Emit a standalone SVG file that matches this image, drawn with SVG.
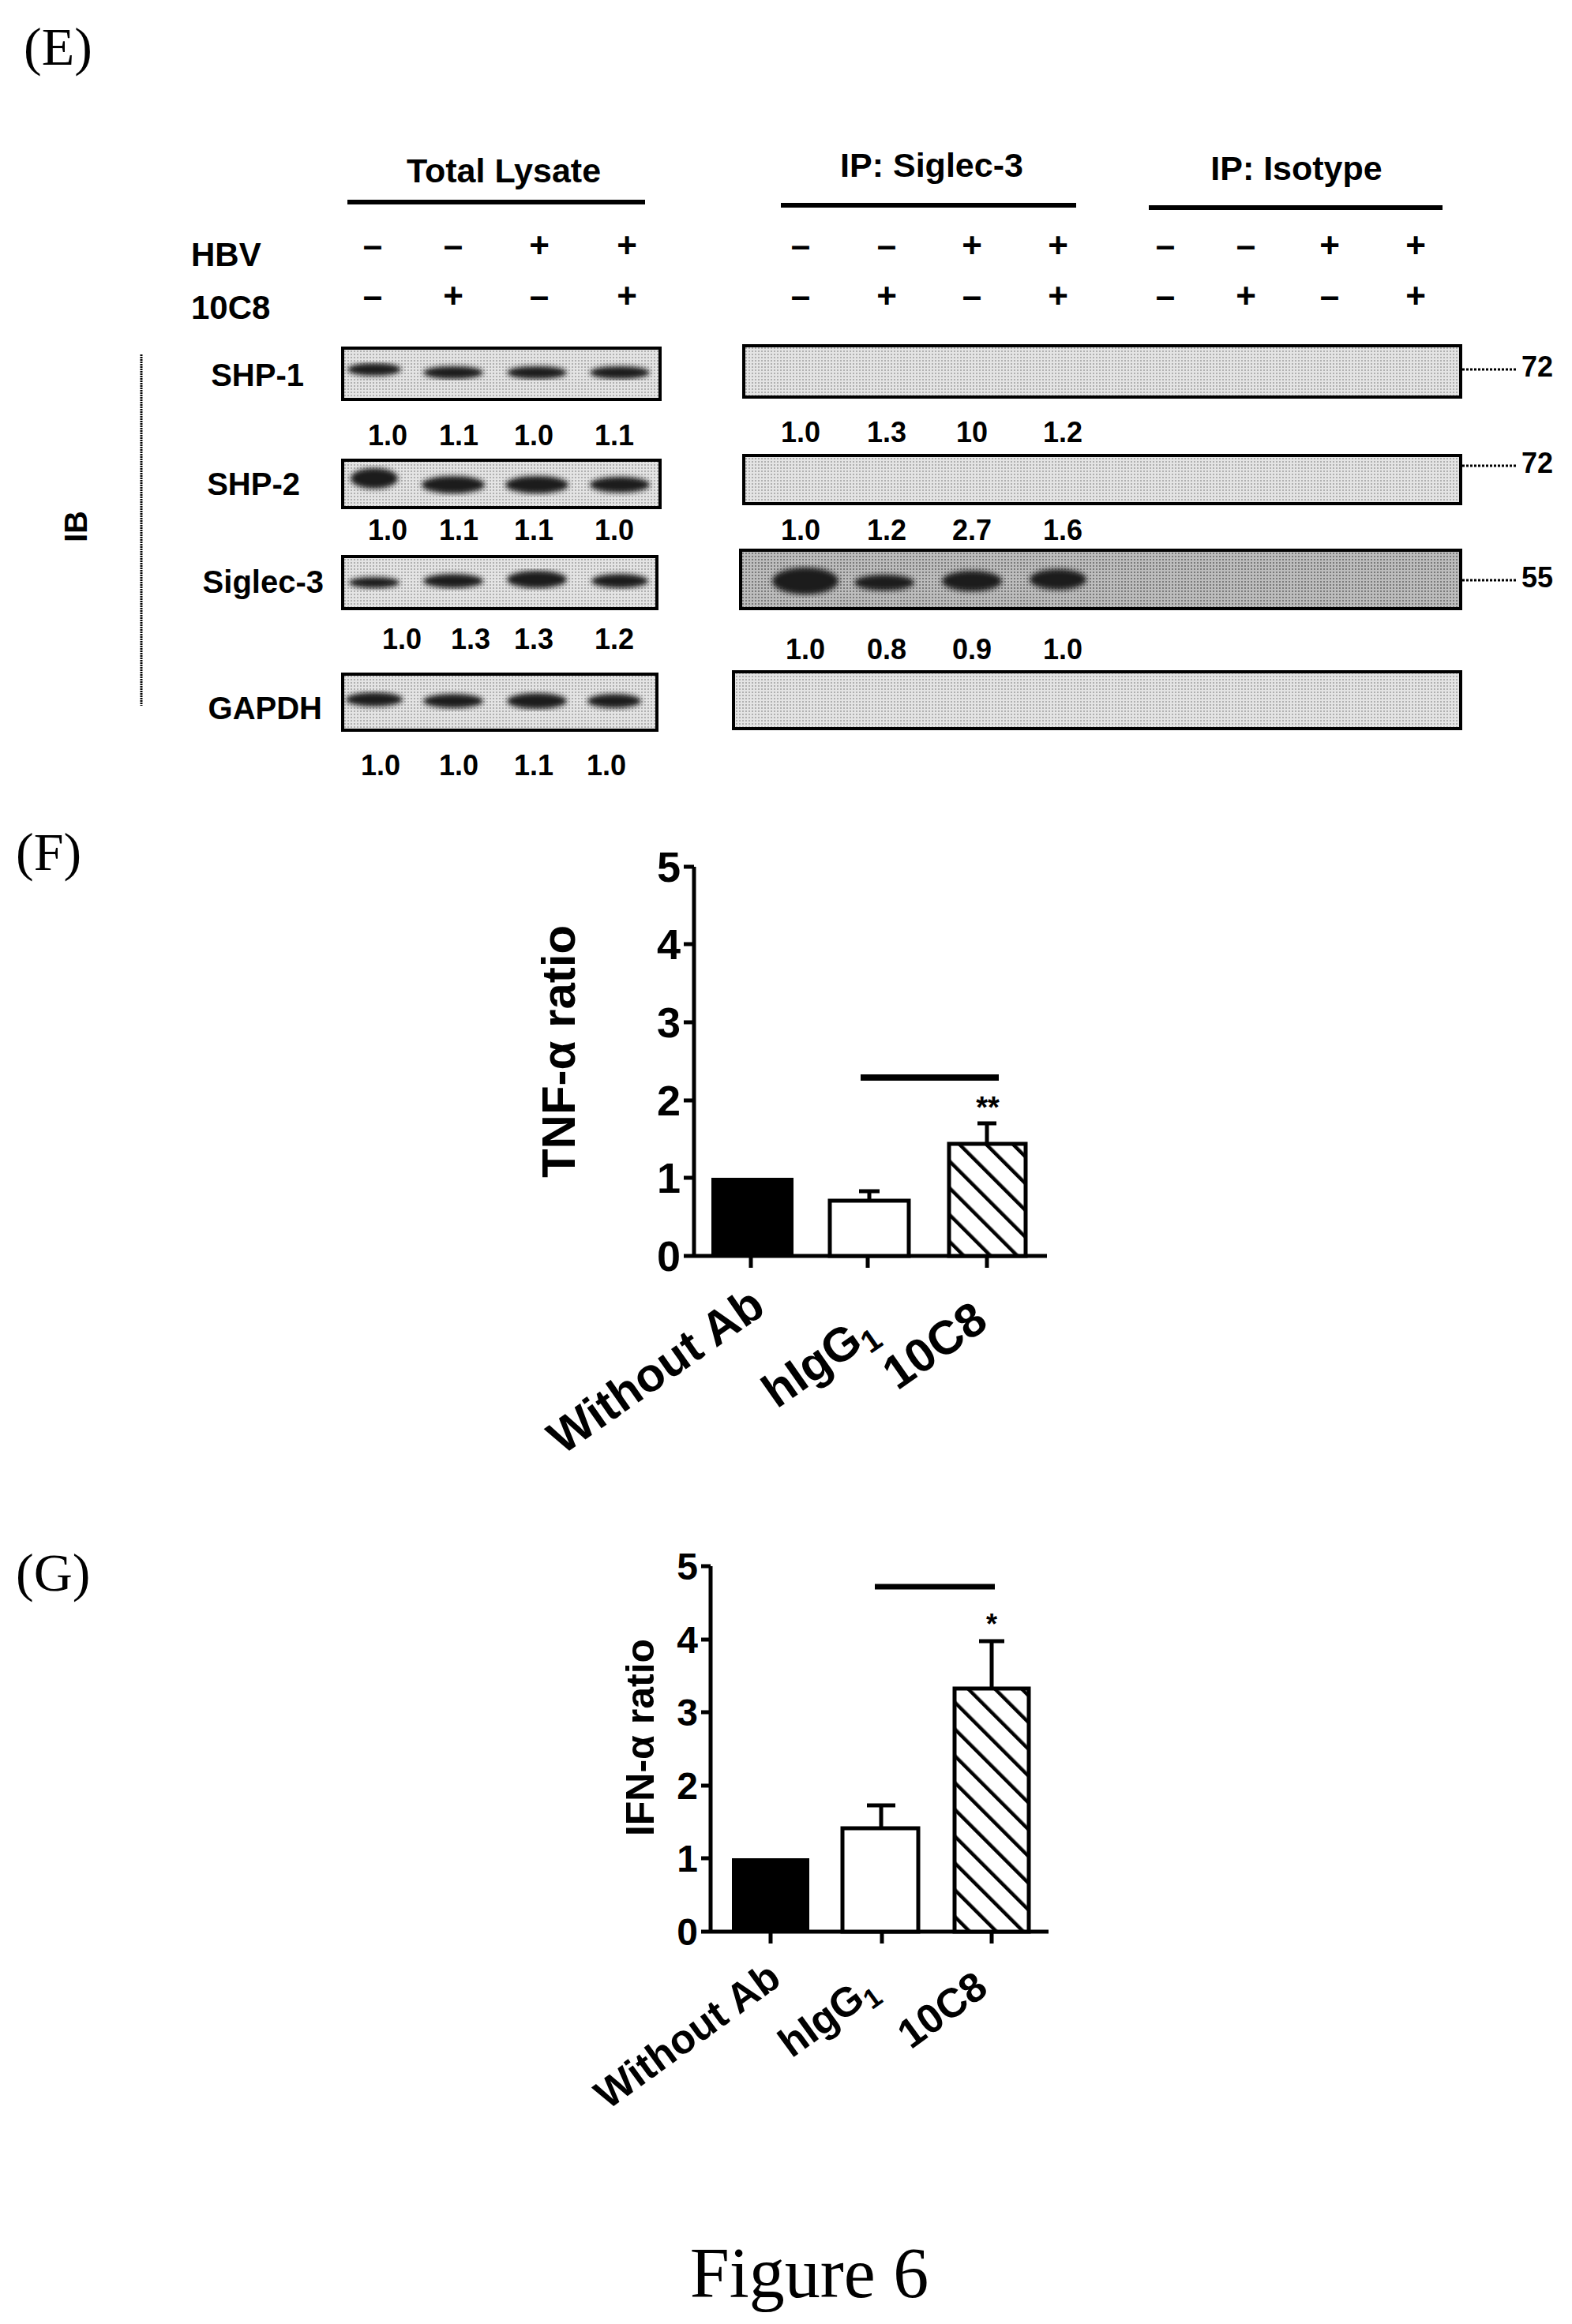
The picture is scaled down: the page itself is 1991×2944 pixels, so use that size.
<svg xmlns="http://www.w3.org/2000/svg" width="1991" height="2944" viewBox="0 0 1991 2944">
<style>
.t{font-family:"Liberation Serif",serif;fill:#000}
.b{font-family:"Liberation Sans",Arial,sans-serif;font-weight:bold;fill:#000}
.h{font-size:43px;text-anchor:middle}
.s{font-size:44px;text-anchor:middle}
.n{font-size:36px;text-anchor:middle}
.l{font-size:40px;text-anchor:end}
.blot{stroke:#000;stroke-width:4;fill:url(#dots)}
.band{fill:#1a1a1a}
.ax{stroke:#000;stroke-width:5;fill:none}
</style>
<defs>
<pattern id="dots" width="4" height="4" patternUnits="userSpaceOnUse">
<rect width="4" height="4" fill="#e4e4e4"/><rect width="2" height="2" fill="#b0b0b0"/>
</pattern>
<pattern id="dotsd" width="4" height="4" patternUnits="userSpaceOnUse">
<rect width="4" height="4" fill="#bdbdbd"/><rect width="2" height="2" fill="#7a7a7a"/>
</pattern>
<pattern id="hatch" width="24" height="24" patternUnits="userSpaceOnUse" patternTransform="rotate(-45)">
<rect width="24" height="24" fill="#fff"/><line x1="0" y1="0" x2="0" y2="24" stroke="#000" stroke-width="9"/>
</pattern>
<filter id="bl"><feGaussianBlur stdDeviation="3"/></filter>
</defs>
<rect width="1991" height="2944" fill="#fff"/>

<g id="panelE">
<text class="t" x="30" y="82" font-size="68">(E)</text>
<text class="b h" x="638" y="231">Total Lysate</text>
<text class="b h" x="1180" y="224">IP: Siglec-3</text>
<text class="b h" x="1642" y="228">IP: Isotype</text>
<line x1="440" y1="256" x2="817" y2="256" stroke="#000" stroke-width="6"/>
<line x1="989" y1="260" x2="1363" y2="260" stroke="#000" stroke-width="6"/>
<line x1="1455" y1="263" x2="1827" y2="263" stroke="#000" stroke-width="6"/>
<text class="b" x="242" y="337" font-size="42">HBV</text>
<text class="b" x="242" y="404" font-size="42">10C8</text>
<g class="b s">
<text x="472" y="326">–</text><text x="574" y="326">–</text><text x="683" y="326">+</text><text x="794" y="326">+</text>
<text x="1014" y="326">–</text><text x="1123" y="326">–</text><text x="1231" y="326">+</text><text x="1340" y="326">+</text>
<text x="1476" y="326">–</text><text x="1578" y="326">–</text><text x="1684" y="326">+</text><text x="1793" y="326">+</text>
<text x="472" y="390">–</text><text x="574" y="390">+</text><text x="683" y="390">–</text><text x="794" y="390">+</text>
<text x="1014" y="390">–</text><text x="1123" y="390">+</text><text x="1231" y="390">–</text><text x="1340" y="390">+</text>
<text x="1476" y="390">–</text><text x="1578" y="390">+</text><text x="1684" y="390">–</text><text x="1793" y="390">+</text>
</g>
<line x1="179" y1="449" x2="179" y2="894" stroke="#000" stroke-width="3" stroke-dasharray="2 1"/>
<text class="b" x="0" y="0" font-size="40" text-anchor="middle" transform="translate(110 667) rotate(-90)">IB</text>

<g id="row-shp1">
<text class="b l" x="385" y="489">SHP-1</text>
<rect class="blot" x="434" y="441" width="402" height="65"/>
<g class="band" filter="url(#bl)"><ellipse cx="474" cy="468" rx="34" ry="8"/><ellipse cx="574" cy="472" rx="38" ry="8"/><ellipse cx="680" cy="472" rx="38" ry="8"/><ellipse cx="785" cy="472" rx="38" ry="8"/></g>
<rect class="blot" x="942" y="438" width="908" height="65"/>
<line x1="1852" y1="468" x2="1922" y2="468" stroke="#000" stroke-width="3" stroke-dasharray="3 2"/>
<text class="b" x="1927" y="477" font-size="36">72</text>
</g>
<g class="b n">
<text x="491" y="564">1.0</text><text x="581" y="564">1.1</text><text x="676" y="564">1.0</text><text x="778" y="564">1.1</text>
<text x="1014" y="560">1.0</text><text x="1123" y="560">1.3</text><text x="1231" y="560">10</text><text x="1346" y="560">1.2</text>
</g>
<g id="row-shp2">
<text class="b l" x="380" y="627">SHP-2</text>
<rect class="blot" x="434" y="583" width="402" height="60"/>
<g class="band" filter="url(#bl)"><ellipse cx="474" cy="606" rx="30" ry="13"/><ellipse cx="574" cy="614" rx="40" ry="11"/><ellipse cx="680" cy="614" rx="40" ry="11"/><ellipse cx="785" cy="614" rx="38" ry="10"/></g>
<rect class="blot" x="942" y="577" width="908" height="61"/>
<line x1="1852" y1="590" x2="1922" y2="590" stroke="#000" stroke-width="3" stroke-dasharray="3 2"/>
<text class="b" x="1927" y="599" font-size="36">72</text>
</g>
<g class="b n">
<text x="491" y="684">1.0</text><text x="581" y="684">1.1</text><text x="676" y="684">1.1</text><text x="778" y="684">1.0</text>
<text x="1014" y="684">1.0</text><text x="1123" y="684">1.2</text><text x="1231" y="684">2.7</text><text x="1346" y="684">1.6</text>
</g>
<g id="row-siglec3">
<text class="b l" x="410" y="751">Siglec-3</text>
<rect class="blot" x="434" y="705" width="398" height="66"/>
<g class="band" filter="url(#bl)"><ellipse cx="474" cy="738" rx="32" ry="7"/><ellipse cx="574" cy="736" rx="38" ry="9"/><ellipse cx="680" cy="734" rx="38" ry="11"/><ellipse cx="785" cy="736" rx="36" ry="9"/></g>
<rect x="938" y="697" width="912" height="74" stroke="#000" stroke-width="4" fill="url(#dotsd)"/>
<g class="band" filter="url(#bl)"><ellipse cx="1020" cy="736" rx="42" ry="17"/><ellipse cx="1120" cy="738" rx="38" ry="10"/><ellipse cx="1231" cy="736" rx="38" ry="13"/><ellipse cx="1340" cy="734" rx="36" ry="13"/></g>
<line x1="1852" y1="735" x2="1922" y2="735" stroke="#000" stroke-width="3" stroke-dasharray="3 2"/>
<text class="b" x="1927" y="744" font-size="36">55</text>
</g>
<g class="b n">
<text x="509" y="822">1.0</text><text x="596" y="822">1.3</text><text x="676" y="822">1.3</text><text x="778" y="822">1.2</text>
<text x="1020" y="835">1.0</text><text x="1123" y="835">0.8</text><text x="1231" y="835">0.9</text><text x="1346" y="835">1.0</text>
</g>
<g id="row-gapdh">
<text class="b l" x="408" y="911">GAPDH</text>
<rect class="blot" x="434" y="854" width="398" height="71"/>
<g class="band" filter="url(#bl)"><ellipse cx="474" cy="886" rx="36" ry="9"/><ellipse cx="574" cy="888" rx="38" ry="9"/><ellipse cx="680" cy="888" rx="38" ry="10"/><ellipse cx="778" cy="888" rx="34" ry="9"/></g>
<rect class="blot" x="929" y="851" width="921" height="72"/>
</g>
<g class="b n">
<text x="482" y="982">1.0</text><text x="581" y="982">1.0</text><text x="676" y="982">1.1</text><text x="768" y="982">1.0</text>
</g>
</g>

<g id="panelF">
<text class="t" x="20" y="1102" font-size="68">(F)</text>
<g class="b" font-size="54" text-anchor="end">
<text x="862" y="1117">5</text><text x="862" y="1215">4</text><text x="862" y="1314">3</text><text x="862" y="1413">2</text><text x="862" y="1511">1</text><text x="862" y="1610">0</text>
</g>
<path class="ax" d="M866 1098H879M866 1196H879M866 1295H879M866 1394H879M866 1492H879M866 1591H879M879 1098V1591H1326M951 1591V1606M1099 1591V1606M1250 1591V1606"/>
<rect x="901" y="1492" width="104" height="99" fill="#000"/>
<path d="M1101 1521V1509M1088 1509H1114" stroke="#000" stroke-width="5"/>
<rect x="1051" y="1521" width="100" height="70" fill="#fff" stroke="#000" stroke-width="5"/>
<path d="M1250 1449V1423M1238 1423H1262" stroke="#000" stroke-width="5"/>
<rect x="1202" y="1449" width="97" height="142" fill="url(#hatch)" stroke="#000" stroke-width="5"/>
<line x1="1090" y1="1365" x2="1265" y2="1365" stroke="#000" stroke-width="8"/>
<text class="b" x="1251" y="1416" font-size="38" text-anchor="middle">**</text>
<text class="b" x="0" y="0" font-size="60" text-anchor="middle" transform="translate(728 1332) rotate(-90)">TNF-α ratio</text>
<g class="b" font-size="60" text-anchor="end">
<text transform="translate(972 1662) rotate(-35)">Without Ab</text>
<text transform="translate(1114 1694) rotate(-35)">hIgG<tspan font-size="40" dy="11">1</tspan></text>
<text transform="translate(1254 1680) rotate(-35)">10C8</text>
</g>
</g>

<g id="panelG">
<text class="t" x="20" y="2015" font-size="68">(G)</text>
<g class="b" font-size="48" text-anchor="end">
<text x="884" y="2001">5</text><text x="884" y="2094">4</text><text x="884" y="2186">3</text><text x="884" y="2279">2</text><text x="884" y="2371">1</text><text x="884" y="2464">0</text>
</g>
<path class="ax" d="M888 1984H900M888 2077H900M888 2169H900M888 2262H900M888 2354H900M888 2447H900M900 1984V2447H1328M976 2447V2462M1117 2447V2462M1256 2447V2462"/>
<rect x="927" y="2354" width="98" height="93" fill="#000"/>
<path d="M1116 2316V2287M1098 2287H1134" stroke="#000" stroke-width="5"/>
<rect x="1067" y="2316" width="96" height="131" fill="#fff" stroke="#000" stroke-width="5"/>
<path d="M1256 2139V2079M1240 2079H1272" stroke="#000" stroke-width="5"/>
<rect x="1209" y="2139" width="94" height="308" fill="url(#hatch)" stroke="#000" stroke-width="5"/>
<line x1="1108" y1="2010" x2="1260" y2="2010" stroke="#000" stroke-width="7"/>
<text class="b" x="1256" y="2070" font-size="36" text-anchor="middle">*</text>
<text class="b" x="0" y="0" font-size="50" text-anchor="middle" transform="translate(828 2201) rotate(-90)">IFN-α ratio</text>
<g class="b" font-size="52" text-anchor="end">
<text transform="translate(992 2512) rotate(-36)">Without Ab</text>
<text transform="translate(1114 2527) rotate(-36)">hIgG<tspan font-size="35" dy="10">1</tspan></text>
<text transform="translate(1254 2524) rotate(-36)">10C8</text>
</g>
</g>

<text class="t" x="1025" y="2910" font-size="90" text-anchor="middle">Figure 6</text>
</svg>
